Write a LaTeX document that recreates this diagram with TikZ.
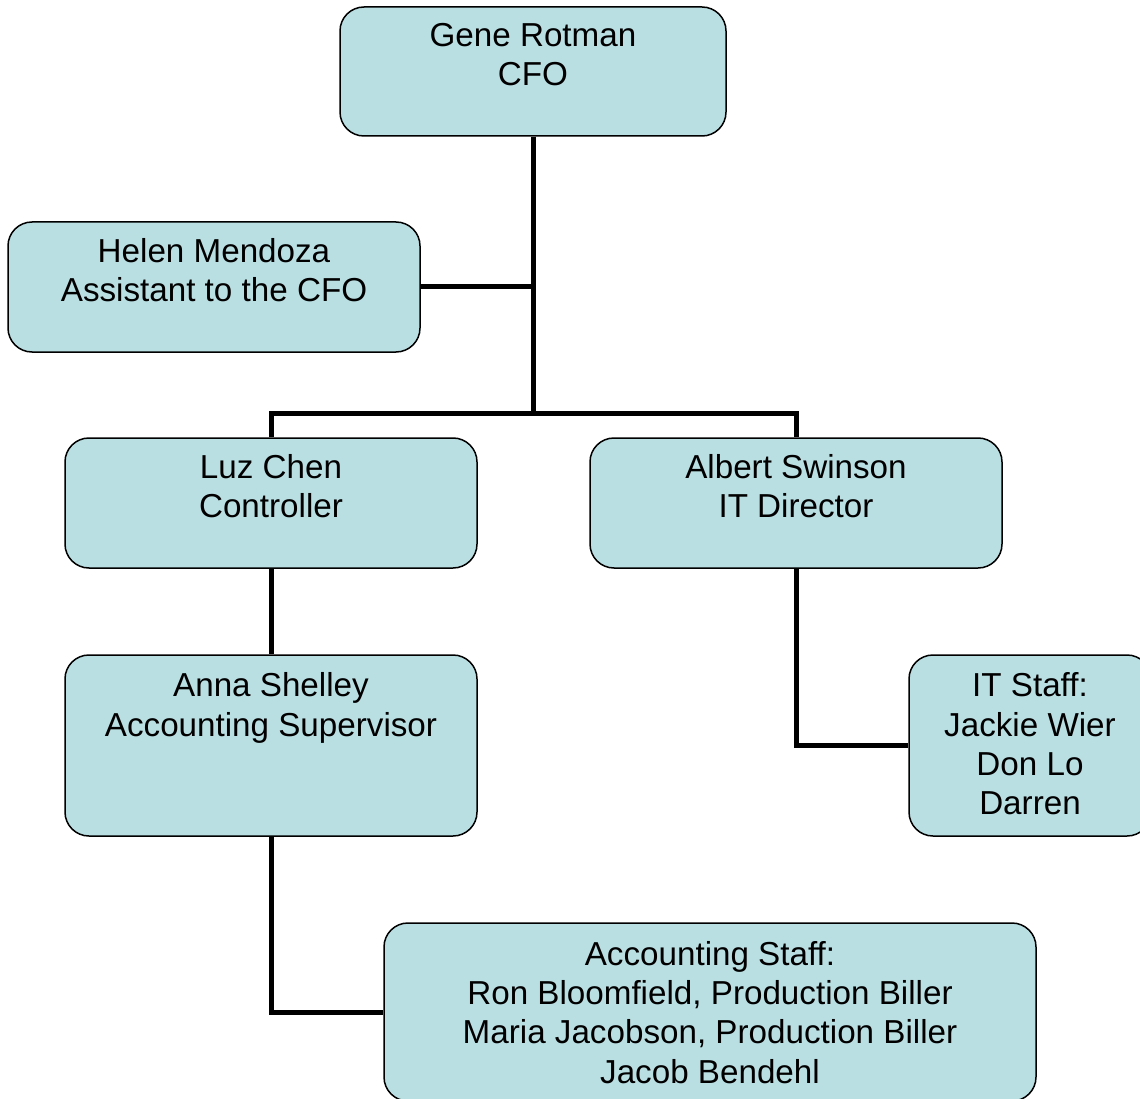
\documentclass[tikz,border=0pt]{standalone}
\usepackage{fontspec}
\setmainfont{Liberation Sans}
\definecolor{boxfill}{HTML}{BADFE3}
\begin{document}
\begin{tikzpicture}[x=1pt,y=-1pt,
  box/.style={draw=black, line width=1.5pt, fill=boxfill, rounded corners=24pt, inner sep=0pt},
  txt/.style={anchor=north, align=center, inner sep=0pt, font=\fontsize{33.2pt}{39.3pt}\selectfont},
  conn/.style={line width=5pt, draw=black}]
\useasboundingbox (0,0) rectangle (1140,1099);
% boxes
\node[box, minimum width=386pt, minimum height=129pt] (cfo) at (533,71.5) {};
\node[box, minimum width=412pt, minimum height=130pt] (helen) at (214,287) {};
\node[box, minimum width=412pt, minimum height=130pt] (luz) at (271,503) {};
\node[box, minimum width=412pt, minimum height=130pt] (albert) at (796,503) {};
\node[box, minimum width=412pt, minimum height=181pt] (anna) at (271,745.5) {};
\node[box, minimum width=242pt, minimum height=181pt] (it) at (1030,745.5) {};
\node[box, minimum width=652pt, minimum height=178pt] (acc) at (710,1012) {};
% texts
\node[txt] (tcfo) at (533,23) {Gene Rotman\\CFO};
\node[txt] (thelen) at (214,238) {Helen Mendoza\\Assistant to the CFO};
\node[txt] (tluz) at (271,454) {Luz Chen\\Controller};
\node[txt] (talbert) at (796,454) {Albert Swinson\\IT Director};
\node[txt] (tanna) at (271,672.5) {Anna Shelley\\Accounting Supervisor};
\node[txt] (tit) at (1030,672.5) {IT Staff:\\Jackie Wier\\Don Lo\\Darren};
\node[txt] (tacc) at (710,941) {Accounting Staff:\\Ron Bloomfield, Production Biller\\Maria Jacobson, Production Biller\\Jacob Bendehl};
% connectors
\coordinate (j) at (533,413);
\draw[conn] (cfo.south) -- (j);
\draw[conn] (helen.east) -- (helen.east -| j);
\draw[conn] (luz.north) -- (luz.north |- j) -- (albert.north |- j) -- (albert.north);
\draw[conn] (luz.south) -- (anna.north);
\draw[conn] (anna.south) |- (acc.west);
\draw[conn] (albert.south) |- (it.west);
\end{tikzpicture}
\end{document}
